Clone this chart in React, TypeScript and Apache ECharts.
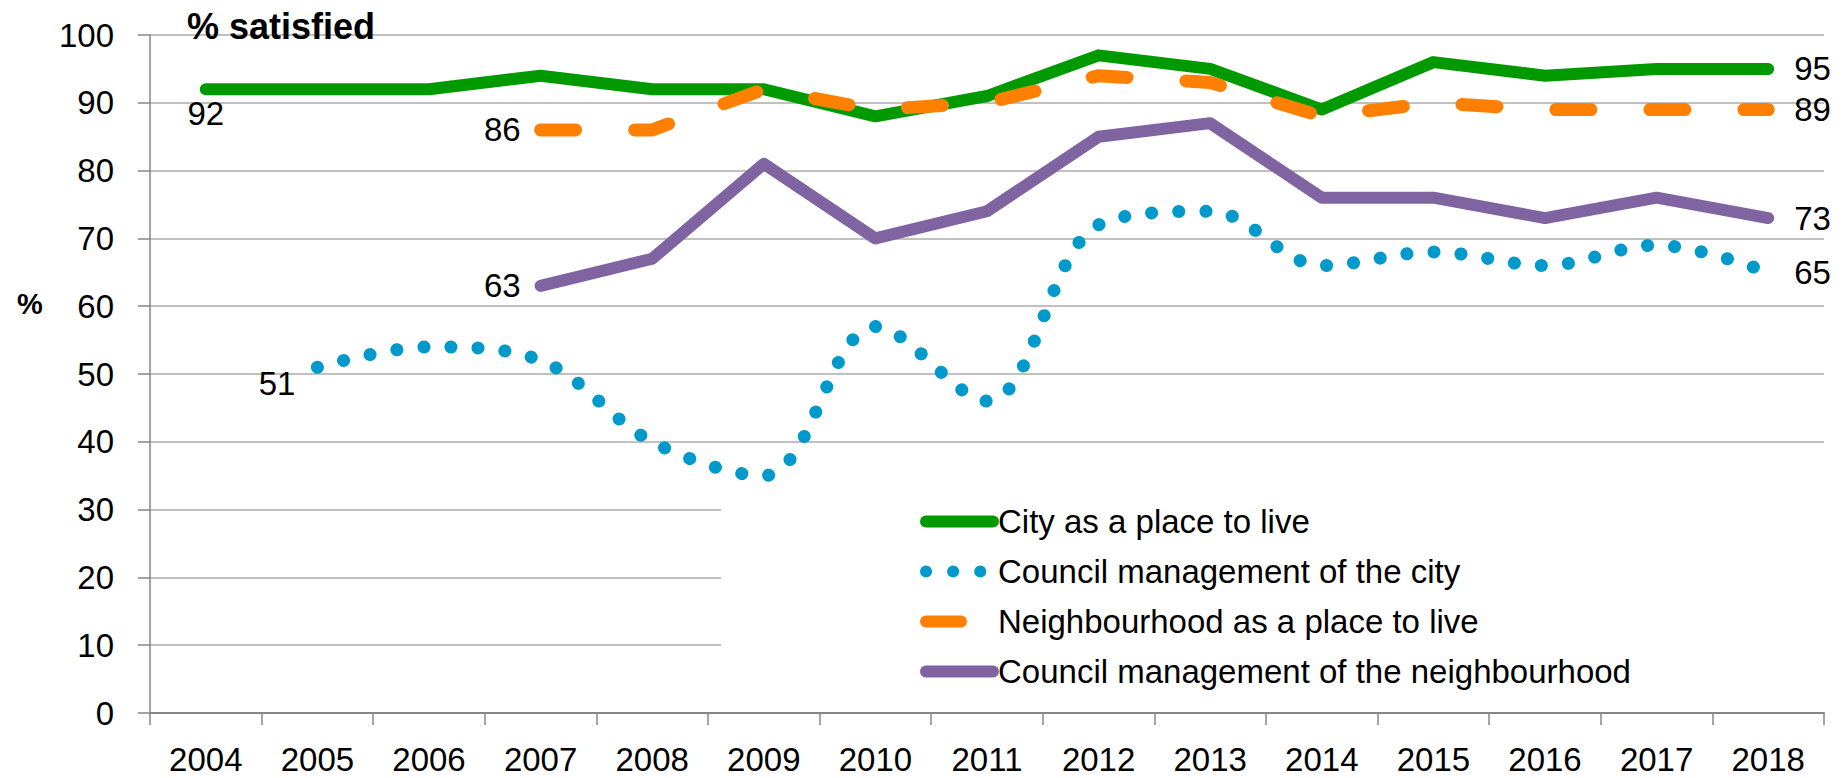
import React, { useEffect, useRef } from 'react';
import * as echarts from 'echarts';

const years = ['2004', '2005', '2006', '2007', '2008', '2009', '2010', '2011', '2012', '2013', '2014', '2015', '2016', '2017', '2018'];
const seriesNames = [
  'City as a place to live',
  'Council management of the city',
  'Neighbourhood as a place to live',
  'Council management of the neighbourhood',
];
const cityPlace = [92, 92, 92, 94, 92, 92, 88, 91, 97, 95, 89, 96, 94, 95, 95];
const councilCity = [null, 51, 54, 52, 40, 35, 57, 46, 72, 74, 66, 68, 66, 69, 65];
const neighbourhoodPlace = [null, null, null, 86, 86, 92, 89, 90, 94, 93, 88, 90, 89, 89, 89];
const councilNeighbourhood = [null, null, null, 63, 67, 81, 70, 74, 85, 87, 76, 76, 73, 76, 73];
const yMin = 0;
const yMax = 100;
const yStep = 10;
const titleText = '% satisfied';
const yName = '%';

const FONT = '"Liberation Sans", Arial, sans-serif';

type LabelSpec = { idx: number; position: string; distance: number; offset?: number[] };

function withLabels(values: (number | null)[], specs: LabelSpec[]) {
  return values.map((v, i) => {
    const spec = specs.find((s) => s.idx === i);
    const value = v === null ? '-' : v;
    if (!spec) return value;
    return {
      value,
      label: {
        show: true,
        position: spec.position,
        distance: spec.distance,
        offset: spec.offset || [0, 0],
        fontSize: 33,
        fontFamily: FONT,
        color: '#000',
        formatter: '{c}',
      },
    };
  });
}

export default function App() {
  const ref = useRef<HTMLDivElement>(null);
  useEffect(() => {
    if (!ref.current) return;
    const chart = echarts.init(ref.current, undefined, { renderer: 'svg' });
    const colors = ['#009900', '#0099CC', '#FF8000', '#8064A2'];
    const baseSeries = (name: string, data: any[], color: string, lineStyle: any) => ({
      name,
      type: 'line',
      data,
      symbol: 'circle',
      symbolSize: 0,
      showSymbol: true,
      itemStyle: { color },
      lineStyle: { color, cap: 'round', join: 'round', ...lineStyle },
      label: { show: false },
      emphasis: { disabled: true },
    });
    chart.setOption({
      animation: false,
      textStyle: { fontFamily: FONT },
      grid: { left: 150, right: 24, top: 35, bottom: 65, containLabel: false },
      legend: {
        orient: 'vertical',
        left: 721,
        top: 488,
        padding: [17, 200, 12, 199],
        backgroundColor: '#ffffff',
        itemWidth: 67,
        itemHeight: 14,
        itemGap: 17,
        selectedMode: false,
        data: seriesNames,
        textStyle: { fontSize: 33, fontFamily: FONT, color: '#000', lineHeight: 33 },
        itemStyle: { opacity: 0, color: 'rgba(0,0,0,0)', borderWidth: 0 },
        lineStyle: { width: 12 },
      },
      xAxis: {
        type: 'category',
        data: years,
        boundaryGap: true,
        axisLine: { show: true, lineStyle: { color: '#868686', width: 2 } },
        axisTick: { show: true, length: 12, interval: 0, lineStyle: { color: '#868686', width: 1.5 } },
        axisLabel: { interval: 0, margin: 30, fontSize: 33, fontFamily: FONT, color: '#000', lineHeight: 33 },
        splitLine: { show: false },
      },
      yAxis: {
        type: 'value',
        min: yMin,
        max: yMax,
        interval: yStep,
        axisLine: { show: true, lineStyle: { color: '#868686', width: 1.5 } },
        axisTick: { show: true, length: 12, lineStyle: { color: '#868686', width: 1.5 } },
        axisLabel: { margin: 36, fontSize: 33, fontFamily: FONT, color: '#000' },
        splitLine: { show: true, lineStyle: { color: '#c0c0c0', width: 2 } },
      },
      graphic: [
        {
          type: 'text',
          left: 187,
          top: 8,
          z: 10,
          style: { text: titleText, font: 'bold 36px ' + FONT, fill: '#000' },
        },
        {
          type: 'text',
          left: 17,
          top: 289,
          z: 10,
          style: { text: yName, font: 'bold 29px ' + FONT, fill: '#000' },
        },
      ],
      series: [
        baseSeries(
          seriesNames[0],
          withLabels(cityPlace, [
            { idx: 0, position: 'bottom', distance: 8 },
            { idx: 14, position: 'right', distance: 26 },
          ]),
          colors[0],
          { width: 12 }
        ),
        {
          ...baseSeries(
            seriesNames[1],
            withLabels(councilCity, [
              { idx: 1, position: 'left', distance: 22, offset: [0, 16] },
              { idx: 14, position: 'right', distance: 26 },
            ]),
            colors[1],
            { width: 13, type: [0.1, 27] }
          ),
          smooth: 0.35,
        },
        baseSeries(
          seriesNames[2],
          withLabels(neighbourhoodPlace, [
            { idx: 3, position: 'left', distance: 20 },
            { idx: 14, position: 'right', distance: 26 },
          ]),
          colors[2],
          { width: 13, type: [35, 59] }
        ),
        baseSeries(
          seriesNames[3],
          withLabels(councilNeighbourhood, [
            { idx: 3, position: 'left', distance: 20 },
            { idx: 14, position: 'right', distance: 26 },
          ]),
          colors[3],
          { width: 12 }
        ),
      ],
    });
    return () => chart.dispose();
  }, []);
  return (
    <div
      ref={ref}
      style={{ position: 'fixed', left: 0, top: 0, width: 1848, height: 778, background: '#fff' }}
    />
  );
}
